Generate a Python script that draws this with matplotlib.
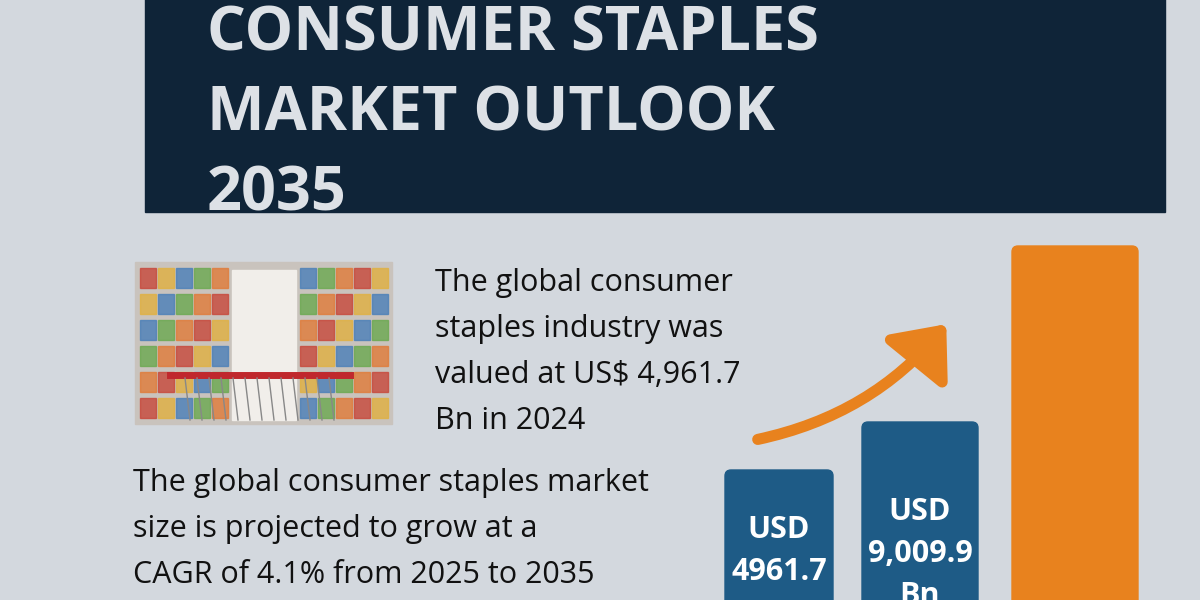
import matplotlib
matplotlib.use("Agg")
import matplotlib.pyplot as plt
from matplotlib.patches import FancyBboxPatch, Rectangle, FancyArrowPatch

title_lines = ["CONSUMER STAPLES", "MARKET OUTLOOK", "2035"]
intro_lines = ["The global consumer", "staples industry was",
               "valued at US$ 4,961.7", "Bn in 2024"]
cagr_lines = ["The global consumer staples market", "size is projected to grow at a",
              "CAGR of 4.1% from 2025 to 2035", "and reach US$ 7,714.5 Bn"]
bar_labels = [["USD", "4961.7", "Bn"], ["USD", "9,009.9", "Bn"], []]
bar_heights = [130, 178, 354]   # visible height in the picture
label_offsets = [60, 90, 0]     # first label line below bar top
bar_colors = ["#1e5b86", "#1e5b86", "#e8821e"]
bar_x = [725, 862, 1012]
bar_w = [108, 116, 126]

plt.rcParams["font.family"] = ["Open Sans", "DejaVu Sans"]
fig = plt.figure(figsize=(12, 6), dpi=100)
fig.patch.set_facecolor("#d3d8de")
ax = fig.add_axes([0, 0, 1, 1])
ax.set_xlim(0, 1200)
ax.set_ylim(600, 0)
ax.axis("off")

# header box
ax.add_patch(Rectangle((145, -5), 1020, 217, color="#0f2438"))
for i, t in enumerate(title_lines):
    ax.text(207, 35 + i * 80, t, fontsize=44, fontweight="bold",
            color="#dde1e6", va="center", ha="left")

# supermarket picture placeholder
ax.add_patch(Rectangle((135, 262), 257, 162, color="#c9c3bd"))
shelf_cols = ["#c7473a", "#e0b040", "#4a7fb8", "#6aa84f", "#e07b39"]
for r in range(6):
    for c in range(5):
        ax.add_patch(Rectangle((140 + c * 18, 268 + r * 26), 16, 20,
                               color=shelf_cols[(r + c) % 5], alpha=0.8))
        ax.add_patch(Rectangle((300 + c * 18, 268 + r * 26), 16, 20,
                               color=shelf_cols[(r + c + 2) % 5], alpha=0.8))
ax.add_patch(Rectangle((232, 270), 64, 150, color="#f1eeea"))
ax.plot([170, 350], [375, 375], color="#c0282d", lw=5)
for xx in range(185, 340, 12):
    ax.plot([xx, xx + 5], [378, 420], color="#888888", lw=1)

for i, t in enumerate(intro_lines):
    ax.text(435, 283 + i * 46, t, fontsize=22, color="#111111", va="center")
for i, t in enumerate(cagr_lines):
    ax.text(133, 483 + i * 46, t, fontsize=22, color="#111111", va="center")

# bars
for x, w, h, col, lab, off in zip(bar_x, bar_w, bar_heights, bar_colors,
                                  bar_labels, label_offsets):
    top = 600 - h
    ax.add_patch(FancyBboxPatch((x, top), w, h + 40,
                                boxstyle="round,pad=0,rounding_size=6",
                                color=col))
    for j, s in enumerate(lab):
        ax.text(x + w / 2, top + off + j * 42, s, fontsize=22,
                fontweight="bold", color="white", ha="center", va="center")

ax.add_patch(FancyArrowPatch((755, 440), (948, 322),
                             connectionstyle="arc3,rad=0.18",
                             arrowstyle="-|>,head_length=14,head_width=12",
                             color="#e8821e", lw=8, mutation_scale=2))

fig.savefig("out.png", dpi=100)
